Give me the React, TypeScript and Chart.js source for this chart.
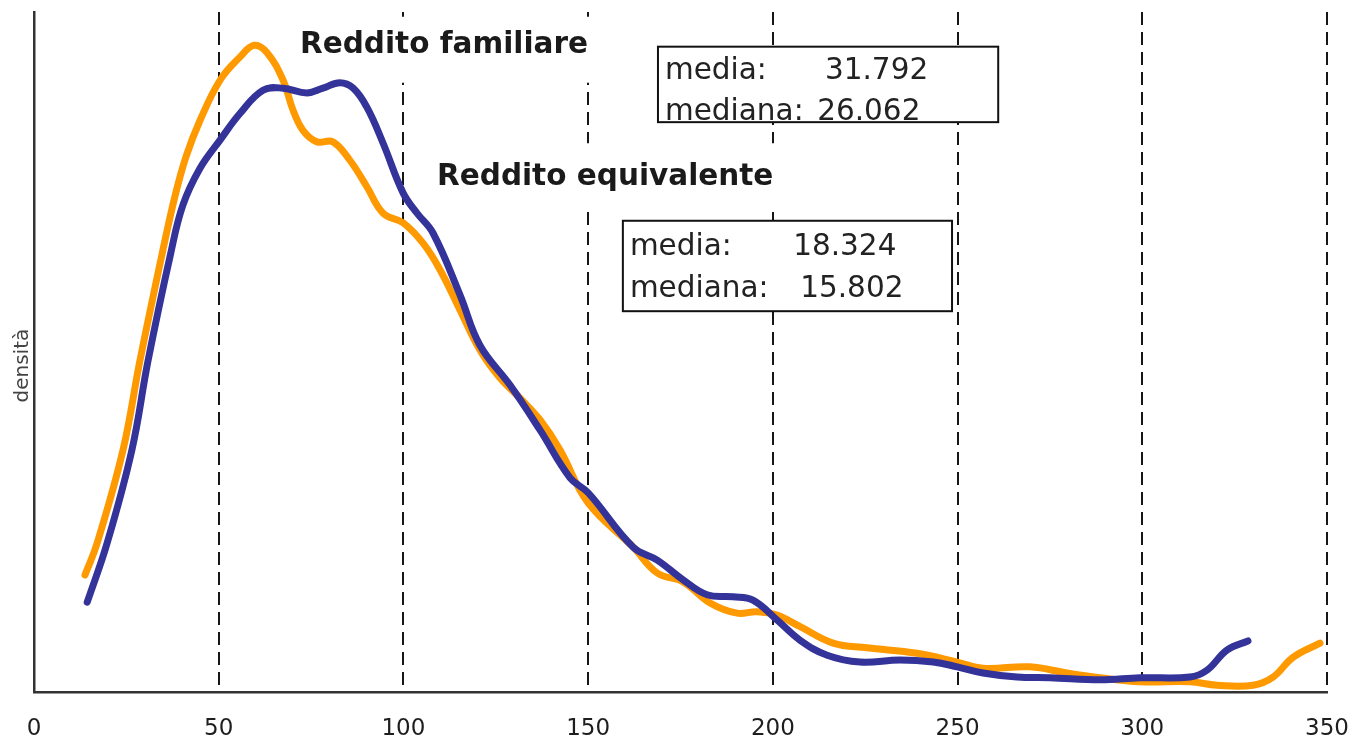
import React, { useEffect, useRef } from "react";
import { Chart, registerables } from "chart.js";

Chart.register(...registerables);

// ---- data ----
const xTickValues = [0, 50, 100, 150, 200, 250, 300, 350];

const blueX = [14.4, 19.8, 26.5, 30.9, 37.0, 40.3, 44.9, 50.4, 55.8, 62.0, 67.4, 73.9, 78.2, 82.8, 86.4, 90.1, 94.5, 99.9, 103.7, 108.0, 115.3, 120.7, 128.9, 137.0, 145.1, 150.0, 162.2, 168.7, 175.7, 182.2, 189.2, 194.6, 201.1, 207.4, 214.7, 223.6, 234.4, 243.4, 249.9, 256.9, 266.1, 275.0, 288.6, 299.4, 312.9, 317.5, 323.0, 328.6];
const blueY = [13.2, 21.9, 35.6, 48.8, 64.5, 71.6, 77.0, 81.2, 85.1, 88.5, 88.8, 88.1, 88.8, 89.6, 88.8, 86.0, 80.7, 73.4, 70.4, 67.5, 58.4, 51.0, 45.1, 38.5, 31.5, 29.3, 21.3, 19.4, 16.5, 14.3, 14.0, 13.5, 10.6, 7.6, 5.4, 4.4, 4.7, 4.4, 3.7, 2.8, 2.2, 2.1, 1.8, 2.1, 2.2, 3.2, 6.2, 7.5];

const orangeX = [13.8, 17.1, 24.1, 28.7, 34.9, 38.2, 41.2, 44.9, 50.4, 55.8, 59.6, 63.1, 67.4, 70.1, 72.8, 76.6, 80.9, 85.5, 90.1, 94.5, 99.9, 105.3, 109.9, 115.3, 120.7, 126.1, 131.6, 137.0, 142.4, 150.0, 162.2, 168.7, 175.7, 183.0, 190.3, 195.7, 201.1, 207.4, 216.3, 225.5, 239.0, 249.9, 256.9, 269.6, 279.6, 288.6, 299.4, 312.9, 320.2, 330.0, 335.4, 340.8, 348.1];
const orangeY = [17.2, 21.9, 35.6, 48.8, 65.0, 73.0, 78.8, 84.0, 90.0, 93.4, 95.1, 94.0, 90.0, 85.6, 82.6, 80.9, 80.9, 78.2, 74.3, 70.4, 69.0, 66.0, 62.1, 56.2, 50.3, 46.2, 43.2, 40.0, 35.6, 27.8, 21.3, 17.5, 16.2, 13.1, 11.6, 11.8, 11.3, 9.6, 7.2, 6.5, 5.7, 4.4, 3.5, 3.7, 2.8, 2.1, 1.5, 1.5, 1.0, 1.0, 2.2, 5.1, 7.2];

const yAxisTitle = "densità";
const titleFamiliare = "Reddito familiare";
const titleEquivalente = "Reddito equivalente";
const statLabels = ["media:", "mediana:"];
const statsFamiliare = ["31.792", "26.062"];
const statsEquivalente = ["18.324", "15.802"];

const FONT = "'DejaVu Sans', Verdana, sans-serif";
const ORANGE = "#ff9900";
const BLUE = "#333399";
const W = 1355;
const H = 741;

const annotations = {
  id: "annotations",
  beforeDatasetsDraw(chart: any) {
    const { ctx, scales, chartArea } = chart;
    const px = (v: number) => scales.x.getPixelForValue(v);
    const py = (v: number) => scales.y.getPixelForValue(v);
    ctx.save();

    // white backgrounds behind the two titles
    ctx.fillStyle = "#ffffff";
    const rect = (x1: number, y1: number, x2: number, y2: number) =>
      ctx.fillRect(px(x1), py(y1), px(x2) - px(x1), py(y2) - py(y1));
    rect(69.3, 99.3, 153.2, 89.6);
    rect(105.8, 80.7, 204.7, 71.2);

    // titles
    ctx.fillStyle = "#1a1a1a";
    ctx.textBaseline = "alphabetic";
    ctx.textAlign = "left";
    ctx.font = `bold 29.5px ${FONT}`;
    ctx.fillText(titleFamiliare, px(72.0), py(94.0));
    ctx.fillText(titleEquivalente, px(109.1), py(74.5));

    // stat boxes
    const box = (
      x1: number, y1: number, x2: number, y2: number,
      labelX: number, valX: number[], base: number[], vals: string[]
    ) => {
      const l = px(x1), t = py(y1), r = px(x2), b = py(y2);
      ctx.fillStyle = "#ffffff";
      ctx.fillRect(l, t, r - l, b - t);
      ctx.font = `29.5px ${FONT}`;
      ctx.fillStyle = "#222222";
      for (let i = 0; i < vals.length; i++) {
        ctx.fillText(statLabels[i], px(labelX), py(base[i]));
        ctx.fillText(vals[i], px(valX[i]), py(base[i]));
      }
      ctx.strokeStyle = "#111111";
      ctx.lineWidth = 2;
      ctx.strokeRect(l, t, r - l, b - t);
    };
    box(168.9, 94.9, 261.0, 83.8, 170.8, [214.1, 212.0], [90.1, 84.1], statsFamiliare);
    box(159.4, 69.3, 248.5, 56.0, 161.3, [205.5, 207.4], [64.3, 58.1], statsEquivalente);

    // y axis title
    ctx.save();
    ctx.translate(chartArea.left - 11, chartArea.top + (chartArea.bottom - chartArea.top) * 0.52);
    ctx.rotate(-Math.PI / 2);
    ctx.font = `20px ${FONT}`;
    ctx.fillStyle = "#444444";
    ctx.textAlign = "center";
    ctx.textBaseline = "middle";
    ctx.fillText(yAxisTitle, 0, 0);
    ctx.restore();

    ctx.restore();
  },
};

export default function App() {
  const canvasRef = useRef<HTMLCanvasElement | null>(null);

  useEffect(() => {
    if (!canvasRef.current) return;
    const chart = new Chart(canvasRef.current, {
      type: "line",
      data: {
        datasets: [
          {
            label: "blue",
            data: blueX.map((x, i) => ({ x, y: blueY[i] })),
            borderColor: BLUE,
            borderWidth: 7,
            pointRadius: 0,
            fill: false,
            tension: 0.4,
            borderCapStyle: "round",
            borderJoinStyle: "round",
          },
          {
            label: "orange",
            data: orangeX.map((x, i) => ({ x, y: orangeY[i] })),
            borderColor: ORANGE,
            borderWidth: 7,
            pointRadius: 0,
            fill: false,
            tension: 0.4,
            borderCapStyle: "round",
            borderJoinStyle: "round",
          },
        ],
      },
      options: {
        animation: false,
        responsive: false,
        devicePixelRatio: 1,
        layout: { padding: { left: 0, top: 12, right: 28, bottom: 0 } },
        plugins: { legend: { display: false }, tooltip: { enabled: false } },
        scales: {
          x: {
            type: "linear",
            min: 0,
            max: 350,
            afterFit: (s: any) => {
              s.height = 49;
              s.paddingLeft = 0;
              s.paddingRight = 0;
            },
            afterBuildTicks: (s: any) => { s.ticks = xTickValues.map((v) => ({ value: v })); },
            ticks: {
              font: { family: FONT, size: 23 },
              color: "#1e1e1e",
              padding: 23,
              maxRotation: 0,
            },
            grid: {
              drawTicks: false,
              lineWidth: 2,
              color: (c: any) => (c.tick && c.tick.value === 0 ? "rgba(0,0,0,0)" : "#161616"),
            },
            border: { display: true, color: "#333333", width: 2.5, dash: [13, 7] },
          },
          y: {
            type: "linear",
            min: 0,
            max: 100,
            afterFit: (s: any) => { s.width = 34; },
            ticks: { display: false },
            grid: { display: false },
            border: { display: true, color: "#333333", width: 2.5 },
          },
        },
      },
      plugins: [annotations],
    });
    return () => chart.destroy();
  }, []);

  return (
    <div style={{ position: "fixed", left: 0, top: 0, width: W, height: H, background: "#fff" }}>
      <canvas ref={canvasRef} width={W} height={H} style={{ display: "block", width: W, height: H }} />
    </div>
  );
}
